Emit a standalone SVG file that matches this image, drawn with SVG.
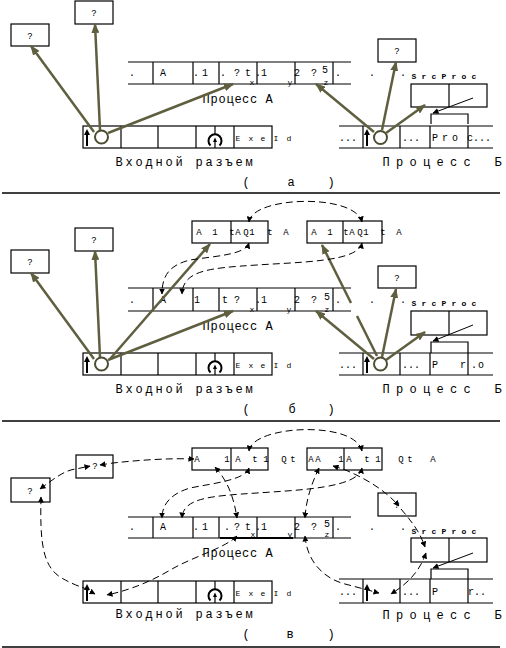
<svg xmlns="http://www.w3.org/2000/svg" width="506" height="648" viewBox="0 0 506 648">
<style>
.ln{stroke:#000;stroke-width:1.2;fill:none}
.bx{fill:#fff;stroke:#000;stroke-width:1.2}
.t{font-family:"Liberation Mono","DejaVu Sans Mono",monospace;fill:#000;text-anchor:middle}
.st{text-anchor:start}
.f12{font-size:12px}
.f10{font-size:10px}
.f9{font-size:9px}
.f8{font-size:8px}
.bold{stroke:#000;stroke-width:2;fill:none}
.ol{stroke:#5f5f40;stroke-width:2.5;fill:none;marker-end:url(#ao)}
.oln{stroke:#5f5f40;stroke-width:2.5;fill:none}
.circ{stroke:#4d4d33;stroke-width:2;fill:#fff}
.da{stroke:#000;stroke-width:1;fill:none;stroke-dasharray:7 4;marker-start:url(#ah);marker-end:url(#ah)}
.de{stroke:#000;stroke-width:1;fill:none;stroke-dasharray:7 4;marker-end:url(#ah)}
.ptr{stroke:#000;stroke-width:1;fill:none;marker-end:url(#ah)}
.sep{stroke:#000;stroke-width:1.5}
</style>
<defs>
<marker id="ao" viewBox="0 0 10 8" refX="9" refY="4" markerWidth="10" markerHeight="8" markerUnits="userSpaceOnUse" orient="auto"><path d="M0,0 L10,4 L0,8 z" fill="#5f5f40"/></marker>
<marker id="ah" viewBox="0 0 6 6" refX="5.5" refY="3" markerWidth="6" markerHeight="6" markerUnits="userSpaceOnUse" orient="auto-start-reverse"><path d="M0,0 L6,3 L0,6 z" fill="#000"/></marker>
</defs>
<rect width="506" height="648" fill="#fff"/>

<g id="separators">
<line class="sep" x1="2" y1="193" x2="500" y2="193"/>
<line class="sep" x1="2" y1="421" x2="500" y2="421"/>
<line class="sep" x1="2" y1="647" x2="500" y2="647"/>
</g>

<!-- ================= PANEL A ================= -->
<g id="panel-a">
<g id="a-q-left"><rect class="bx" x="11" y="24" width="38" height="22"/><text class="t f9" x="30" y="39">?</text></g>
<g id="a-q-top"><rect class="bx" x="75" y="1" width="38" height="23"/><text class="t f9" x="94" y="16">?</text></g>
<g id="a-procA">
<path class="ln" d="M128,62H351M128,84H351M153,62V84M193,62V84M219,62V84M257,62V84M295,62V84M333,62V84"/>
<g class="t f10">
<text x="132" y="76">.</text>
<text x="163" y="76">A</text>
<text x="196 205" y="76">.1</text>
<text x="223 237 248" y="76">.?t</text>
<text x="258 264" y="76">.1</text>
<text x="297 314" y="76">2?</text>
<text x="325" y="73">5</text>
<text x="338" y="76">.</text>
<text x="372" y="76">.</text>
<text x="403" y="76">.</text>
</g>
<g class="t f8">
<text x="252" y="85">x</text>
<text x="290" y="85">y</text>
<text x="326" y="85">z</text>
</g>
<text class="t f12" x="206 214 222 230 238 245.5 253.5 269" y="103">ПроцессА</text>
</g>
<g id="a-input">
<rect class="ln" x="83" y="126" width="189" height="22"/>
<path class="ln" d="M121,126V148M158,126V148M196,126V148M234,126V148"/>
<path class="bold" d="M87,146V134"/><path d="M84,135L87,129L90,135z"/>
<path class="bold" d="M210.5,145.5A6.5,6.5 0 1 1 219.5,145.5"/>
<path class="ln" d="M215,126V134.5"/>
<path class="ln" d="M215,148V141"/><path d="M213,142L215,137.5L217,142z"/>
<text class="t f8" x="238 251 263" y="141">Exe</text>
<text class="t f8" x="276 289" y="141">Id</text>
<circle class="circ" cx="101.5" cy="137" r="6.5"/>
<text class="t f12" x="119 129 139 149 159 169 179 199 209 219 229 239 249" y="166">Входнойразъем</text>
</g>
<g id="a-procB">
<path class="ln" d="M339,126H493M339,148H493M363,126V148M400,126V148M430,126V148M468,126V148"/>
<path class="bold" d="M367,146V134"/><path d="M364,135L367,129L370,135z"/>
<circle class="circ" cx="380.5" cy="137.5" r="6.5"/>
<g class="t f10">
<text x="348" y="141">...</text>
<text x="411" y="141">...</text>
<text x="435 445 455" y="141">Pro</text>
<text class="st" x="467" y="141">c...</text>
</g>
<text class="t f12" x="386 399.5 413 426.5 440 453.5 467 498" y="166">ПроцессБ</text>
</g>
<g id="a-q-b"><rect class="bx" x="378" y="39" width="38" height="23"/><text class="t f9" x="397" y="54">?</text></g>
<g id="a-srcproc">
<text class="t f8" x="414 424 434 444 454 464 474" y="79" font-weight="bold">SrcProc</text>
<rect class="bx" x="411" y="84" width="76" height="23"/>
<path class="ln" d="M449,84V107"/>
<path class="ln" d="M431,124V114H468V124"/>
</g>
<g id="a-label"><text class="t f12" x="246 291 331" y="186">(а)</text></g>
</g>

<!-- ================= PANEL B ================= -->
<g id="panel-b" transform="translate(0,227)">
<g id="b-q-left"><rect class="bx" x="11" y="23" width="38" height="23"/><text class="t f9" x="30" y="38">?</text></g>
<g id="b-q-top"><rect class="bx" x="75" y="1" width="38" height="23"/><text class="t f9" x="94" y="16">?</text></g>
<g id="b-rec1">
<rect class="bx" x="192" y="-6" width="76" height="22"/><path class="ln" d="M231,-6V16"/>
<g class="t f9">
<text x="199 215" y="8">A1</text>
<text x="232 238 246 252" y="8">tAQ1</text>
<text x="270 286" y="8">tA</text>
</g>
</g>
<g id="b-rec2">
<rect class="bx" x="307" y="-6" width="75" height="22"/><path class="ln" d="M343,-6V16"/>
<g class="t f9">
<text x="314 330" y="8">A1</text>
<text x="346 352 360 366" y="8">tAQ1</text>
<text x="383 399" y="8">tA</text>
</g>
</g>
<g id="b-procA">
<path class="ln" d="M128,61H351M128,84H351M153,61V84M193,61V84M219,61V84M257,61V84M295,61V84M333,61V84"/>
<g class="t f10">
<text x="132" y="76">.</text>
<text x="163" y="76">A</text>
<text x="197" y="76">1</text>
<text x="225 237" y="76">t?</text>
<text x="258 264" y="76">.1</text>
<text x="297 314" y="76">2?</text>
<text x="327" y="73">5</text>
<text x="338" y="76">.</text>
<text x="372" y="76">.</text>
<text x="403" y="76">.</text>
</g>
<g class="t f8">
<text x="252" y="85">x</text>
<text x="289" y="85">y</text>
<text x="327" y="85">z</text>
</g>
<text class="t f12" x="206 214 222 230 238 245.5 253.5 269" y="103">ПроцессА</text>
</g>
<g id="b-input">
<rect class="ln" x="83" y="126" width="189" height="22"/>
<path class="ln" d="M121,126V148M158,126V148M196,126V148M234,126V148"/>
<path class="bold" d="M87,146V134"/><path d="M84,135L87,129L90,135z"/>
<path class="bold" d="M210.5,145.5A6.5,6.5 0 1 1 219.5,145.5"/>
<path class="ln" d="M215,126V134.5"/>
<path class="ln" d="M215,148V141"/><path d="M213,142L215,137.5L217,142z"/>
<text class="t f8" x="238 251 263" y="141">Exe</text>
<text class="t f8" x="276 289" y="141">Id</text>
<circle class="circ" cx="101.5" cy="137" r="6.5"/>
<text class="t f12" x="119 129 139 149 159 169 179 199 209 219 229 239 249" y="166">Входнойразъем</text>
</g>
<g id="b-procB">
<path class="ln" d="M339,126H493M339,148H493M363,126V148M400,126V148M430,126V148M468,126V148"/>
<path class="bold" d="M367,146V134"/><path d="M364,135L367,129L370,135z"/>
<circle class="circ" cx="380.5" cy="137" r="6.5"/>
<g class="t f10">
<text x="348" y="141">...</text>
<text x="411" y="141">...</text>
<text x="435" y="141">P</text>
<text x="463" y="141">r</text>
<text x="474 481" y="141">.o</text>
</g>
<text class="t f12" x="386 399.5 413 426.5 440 453.5 467 498" y="166">ПроцессБ</text>
</g>
<g id="b-q-b"><rect class="bx" x="378" y="39" width="38" height="22"/><text class="t f9" x="397" y="54">?</text></g>
<g id="b-srcproc">
<text class="t f8" x="414 424 434 444 454 464 474" y="79" font-weight="bold">SrcProc</text>
<rect class="bx" x="411" y="84" width="76" height="24"/>
<path class="ln" d="M449,84V108"/>
<path class="ln" d="M431,126V115H468V126"/>
</g>
<g id="b-label"><text class="t f12" x="246 292 331" y="186">(б)</text></g>
</g>

<!-- ================= PANEL C ================= -->
<g id="panel-c" transform="translate(0,455)">
<g id="c-q-left"><rect class="bx" x="11" y="23" width="39" height="24"/><text class="t f9" x="30" y="39">?</text></g>
<g id="c-q-top"><rect class="bx" x="76" y="0" width="37" height="23"/><text class="t f9" x="95" y="14">?</text></g>
<g id="c-rec1">
<rect class="bx" x="192" y="-7" width="76" height="22"/><path class="ln" d="M231,-7V15"/>
<g class="t f9">
<text x="197 227" y="7">A1</text>
<text x="238 255 266" y="7">At1</text>
<text x="284 293" y="7">Qt</text>
</g>
</g>
<g id="c-rec2">
<rect class="bx" x="307" y="-7" width="75" height="22"/><path class="ln" d="M344,-7V15"/>
<g class="t f9">
<text x="311 318 341" y="7">AA1</text>
<text x="349 367 378" y="7">At1</text>
<text x="401 410" y="7">Qt</text>
<text x="433" y="7">A</text>
</g>
</g>
<g id="c-procA">
<path class="ln" d="M128,62H351M128,83H351M153,62V83M193,62V83M219,62V83M257,62V83M295,62V83M333,62V83"/>
<path class="bold" d="M220,83H293"/>
<g class="t f10">
<text x="132" y="75">.</text>
<text x="163" y="75">A</text>
<text x="196 205" y="75">.1</text>
<text x="227 237 248" y="75">.?t</text>
<text x="258 264" y="75">.1</text>
<text x="297 314" y="75">2?</text>
<text x="327" y="72">5</text>
<text x="338" y="75">.</text>
<text x="372" y="75">.</text>
<text x="403" y="75">.</text>
</g>
<g class="t f8">
<text x="253" y="82">x</text>
<text x="290" y="82">v</text>
<text x="327" y="82">z</text>
</g>
<text class="t f12" x="206 214 222 230 238 245.5 253.5 269" y="102">ПроцессА</text>
</g>
<g id="c-input">
<rect class="ln" x="83" y="126" width="189" height="22"/>
<path class="ln" d="M121,126V148M158,126V148M196,126V148M234,126V148"/>
<path class="bold" d="M87,146V134"/><path d="M84,135L87,129L90,135z"/>
<path class="bold" d="M210.5,145.5A6.5,6.5 0 1 1 219.5,145.5"/>
<path class="ln" d="M215,126V134.5"/>
<path class="ln" d="M215,148V141"/><path d="M213,142L215,137.5L217,142z"/>
<text class="t f8" x="238 251 263" y="141">Exe</text>
<text class="t f8" x="276 289" y="141">Id</text>
<text class="t f12" x="119 129 139 149 159 169 179 199 209 219 229 239 249" y="163">Входнойразъем</text>
</g>
<g id="c-procB">
<path class="ln" d="M339,124H493M339,148H493M363,124V148M400,124V148M430,124V148M468,124V148"/>
<path class="bold" d="M367,146V134"/><path d="M364,135L367,129L370,135z"/>
<g class="t f10">
<text x="348" y="140">...</text>
<text x="411" y="140">...</text>
<text x="435" y="140">P</text>
<text class="st" x="468" y="140">r..</text>
</g>
<text class="t f12" x="386 399.5 413 426.5 440 453.5 467 498" y="164">ПроцессБ</text>
</g>
<g id="c-q-b"><rect class="bx" x="378" y="38" width="38" height="23"/><text class="t f9" x="397" y="53">?</text></g>
<g id="c-srcproc">
<text class="t f8" x="414 424 434 444 454 464 474" y="79" font-weight="bold">SrcProc</text>
<rect class="bx" x="411" y="83" width="76" height="24"/>
<path class="ln" d="M449,83V107"/>
<path class="ln" d="M431,124V114H468V124"/>
</g>
<g id="c-label"><text class="t f12" x="246 290 331" y="183">(в)</text></g>
</g>

<!-- ================= CONNECTORS ================= -->
<g id="connectors">
<path class="ol" d="M94,132L31,46"/>
<path class="ol" d="M100,130L95,24"/>
<path class="ol" d="M108,133L233,84"/>
<path class="ol" d="M374,132L316,84"/>
<path class="ol" d="M382,130L396,62"/>
<path class="ol" d="M386,133L425,105"/>
<path class="ptr" d="M473,98L433,113"/>
<path class="ol" d="M94,359L31,273"/>
<path class="ol" d="M100,357L95,251"/>
<path class="ol" d="M110,359L210,244"/>
<path class="ol" d="M108,360L233,311"/>
<path class="ol" d="M374,359L316,311"/>
<path class="oln" d="M377,356L357,316"/>
<path class="ol" d="M351,303L322,245"/>
<path class="ol" d="M382,357L396,289"/>
<path class="ol" d="M386,360L425,332"/>
<path class="ptr" d="M473,325L433,341"/>
<path class="da" d="M249,222C252,196 355,193 362,222"/>
<path class="da" d="M249,243C245,255 215,256 190,260C170,265 162,275 162,294"/>
<path class="da" d="M362,243C358,262 300,262 257,265C210,268 183,270 182,294"/>
<path class="da" d="M249,451C252,425 355,420 362,451"/>
<path class="da" d="M249,468C245,480 215,483 190,488C170,494 162,505 162,518"/>
<path class="da" d="M362,468C358,488 300,490 257,493C210,496 183,498 182,518"/>
<path class="da" d="M215,467C225,478 233,492 237,518"/>
<path class="da" d="M319,468C311,485 306,500 305,518"/>
<path class="da" d="M333,466L343,469C365,478 385,490 399,506"/>
<path class="de" d="M401,509C412,522 420,532 425,547"/>
<path class="da" d="M305,536C307,560 322,578 345,584L379,593"/>
<path class="da" d="M426,553C420,570 410,582 391,594"/>
<path class="da" d="M237,536C225,548 195,556 172,569C150,582 130,590 107,595"/>
<path class="da" d="M41,497C40,540 42,565 60,577C70,583 78,586 84,588L95,594"/>
<path class="da" d="M100,465L113,463C140,460 170,458 194,459"/>
<path class="da" d="M40,489C55,478 65,470 76,469L90,466"/>
<path class="ptr" d="M473,553L433,568"/>
</g>
</svg>
